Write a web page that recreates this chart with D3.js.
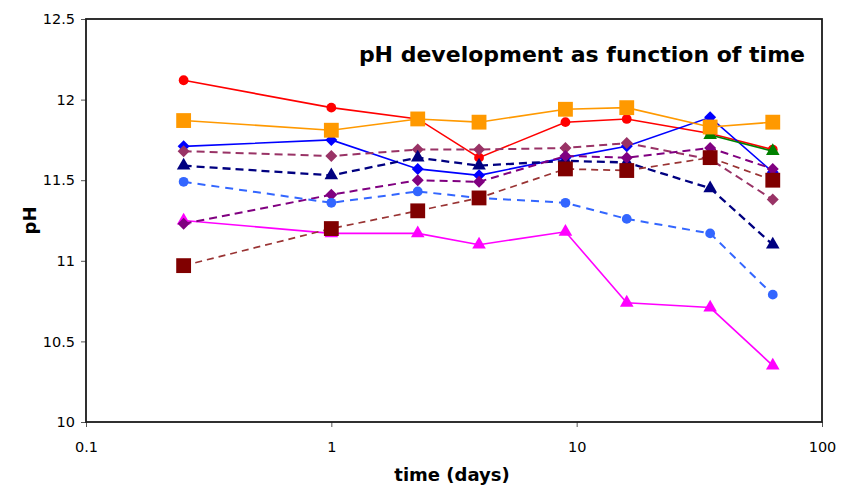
<!DOCTYPE html>
<html>
<head>
<meta charset="utf-8">
<script src="https://cdn.jsdelivr.net/npm/d3@7"></script>
<style>
  body { margin: 0; background: #fff; }
  text { font-family: "DejaVu Sans", Verdana, sans-serif; fill: #000; }
</style>
</head>
<body>
<div id="chart"></div>
<script>
// sampling times (days)
const days = [0.25, 1, 2.25, 4, 9, 16, 35, 63];

// pH values per series (null = no point)
const redSolid = [12.12, 11.95, 11.88, 11.64, 11.86, 11.88, 11.79, 11.69];
const blueSolid = [11.71, 11.75, 11.57, 11.53, 11.64, 11.71, 11.89, 11.55];
const greenSolid = [null, null, null, null, null, null, 11.78, 11.68];
const orangeSolid = [11.87, 11.81, 11.88, 11.86, 11.94, 11.95, 11.83, 11.86];
const plumDashed = [11.68, 11.65, 11.69, 11.69, 11.70, 11.73, 11.63, 11.38];
const navyDashed = [11.59, 11.53, 11.64, 11.59, 11.62, 11.61, 11.45, 11.10];
const pinkSolid = [11.25, 11.17, 11.17, 11.10, 11.18, 10.74, 10.71, 10.35];
const purpleDashed = [11.23, 11.41, 11.50, 11.49, 11.65, 11.64, 11.70, 11.57];
const skyDashed = [11.49, 11.36, 11.43, 11.39, 11.36, 11.26, 11.17, 10.79];
const maroonDashed = [10.97, 11.20, 11.31, 11.39, 11.57, 11.56, 11.64, 11.50];

const xTicks = [0.1, 1, 10, 100];
const yTicks = [10, 10.5, 11, 11.5, 12, 12.5];

const series = [
  {values: redSolid, line: "#FF0000", fill: "#FF0000", shape: "circle", dash: null, lw: 1.6},
  {values: blueSolid, line: "#0000FF", fill: "#0000FF", shape: "diamond", dash: null, lw: 1.6},
  {values: greenSolid, line: "#008000", fill: "#008000", shape: "triangle", dash: null, lw: 1.6},
  {values: orangeSolid, line: "#FF9900", fill: "#FF9900", shape: "square", dash: null, lw: 1.6},
  {values: plumDashed, line: "#993366", fill: "#993366", shape: "diamond", dash: "8,5", lw: 2},
  {values: navyDashed, line: "#000080", fill: "#000080", shape: "triangle", dash: "8,5", lw: 2.3},
  {values: pinkSolid, line: "#FF00FF", fill: "#FF00FF", shape: "triangle", dash: null, lw: 1.6},
  {values: purpleDashed, line: "#800080", fill: "#800080", shape: "diamond", dash: "8,5", lw: 2},
  {values: skyDashed, line: "#3366FF", fill: "#3366FF", shape: "circle", dash: "8,6", lw: 2},
  {values: maroonDashed, line: "#993333", fill: "#800000", shape: "square", dash: "7,5", lw: 1.7}
];

const width = 843, height = 491;
const margin = {top: 19, right: 21, bottom: 69, left: 86};
const innerW = width - margin.left - margin.right,
      innerH = height - margin.top - margin.bottom;

const svg = d3.select("#chart")
  .append("svg")
  .attr("width", width)
  .attr("height", height);

const g = svg.append("g")
  .attr("transform", `translate(${margin.left},${margin.top})`);

const x = d3.scaleLog()
  .domain([0.1, 100])
  .range([0, innerW]);

const y = d3.scaleLinear()
  .domain([10, 12.5])
  .range([innerH, 0]);

// axes
const xAxis = d3.axisBottom(x)
  .tickValues(xTicks)
  .tickSize(5)
  .tickPadding(15)
  .tickFormat(d => d3.format("~g")(d));

const yAxis = d3.axisLeft(y)
  .tickValues(yTicks)
  .tickSize(5)
  .tickPadding(6)
  .tickFormat(d => d3.format("~g")(d));

g.append("g")
  .attr("transform", `translate(0,${innerH})`)
  .call(xAxis)
  .call(a => a.select(".domain").remove())
  .call(a => a.selectAll(".tick line").attr("stroke", "#555"))
  .call(a => a.selectAll(".tick text").style("font-size", "14.5px").attr("fill", "#000"));

g.append("g")
  .call(yAxis)
  .call(a => a.select(".domain").remove())
  .call(a => a.selectAll(".tick line").attr("stroke", "#555"))
  .call(a => a.selectAll(".tick text").style("font-size", "14.5px").attr("fill", "#000"));

// plot frame
g.append("rect")
  .attr("x", 0)
  .attr("y", 0)
  .attr("width", innerW)
  .attr("height", innerH)
  .attr("fill", "none")
  .attr("stroke", "#1a1a1a")
  .attr("stroke-width", 1.8);

const line = d3.line()
  .defined(d => d.v != null)
  .x(d => x(d.t))
  .y(d => y(d.v));

const symbols = {
  circle: d3.symbol().type(d3.symbolCircle).size(75),
  square: d3.symbol().type(d3.symbolSquare).size(220),
  diamond: d3.symbol().type(d3.symbolSquare).size(72),
  triangle: d3.symbol().type(d3.symbolTriangle).size(80)
};

const seriesG = g.selectAll(".series")
  .data(series)
  .enter()
  .append("g")
  .attr("class", "series");

seriesG.append("path")
  .attr("d", s => line(days.map((t, i) => ({t: t, v: s.values[i]}))))
  .attr("fill", "none")
  .attr("stroke", s => s.line)
  .attr("stroke-width", s => s.lw)
  .attr("stroke-dasharray", s => s.dash);

seriesG.each(function(s) {
  const pts = days.map((t, i) => ({t: t, v: s.values[i]})).filter(d => d.v != null);
  d3.select(this).selectAll(".mark")
    .data(pts)
    .enter()
    .append("path")
    .attr("class", "mark")
    .attr("d", symbols[s.shape]())
    .attr("transform", d => `translate(${x(d.t)},${y(d.v)})` + (s.shape === "diamond" ? " rotate(45)" : ""))
    .attr("fill", s.fill);
});

// title and axis labels
svg.append("text")
  .attr("x", 805)
  .attr("y", 62)
  .style("text-anchor", "end")
  .style("font-size", "22px")
  .style("font-weight", "bold")
  .text("pH development as function of time");

svg.append("text")
  .attr("x", 452)
  .attr("y", 481)
  .style("text-anchor", "middle")
  .style("font-size", "18px")
  .style("font-weight", "bold")
  .text("time (days)");

svg.append("text")
  .attr("transform", `translate(36, ${margin.top + innerH / 2}) rotate(-90)`)
  .style("text-anchor", "middle")
  .style("font-size", "18px")
  .style("font-weight", "bold")
  .text("pH");
</script>
</body>
</html>
